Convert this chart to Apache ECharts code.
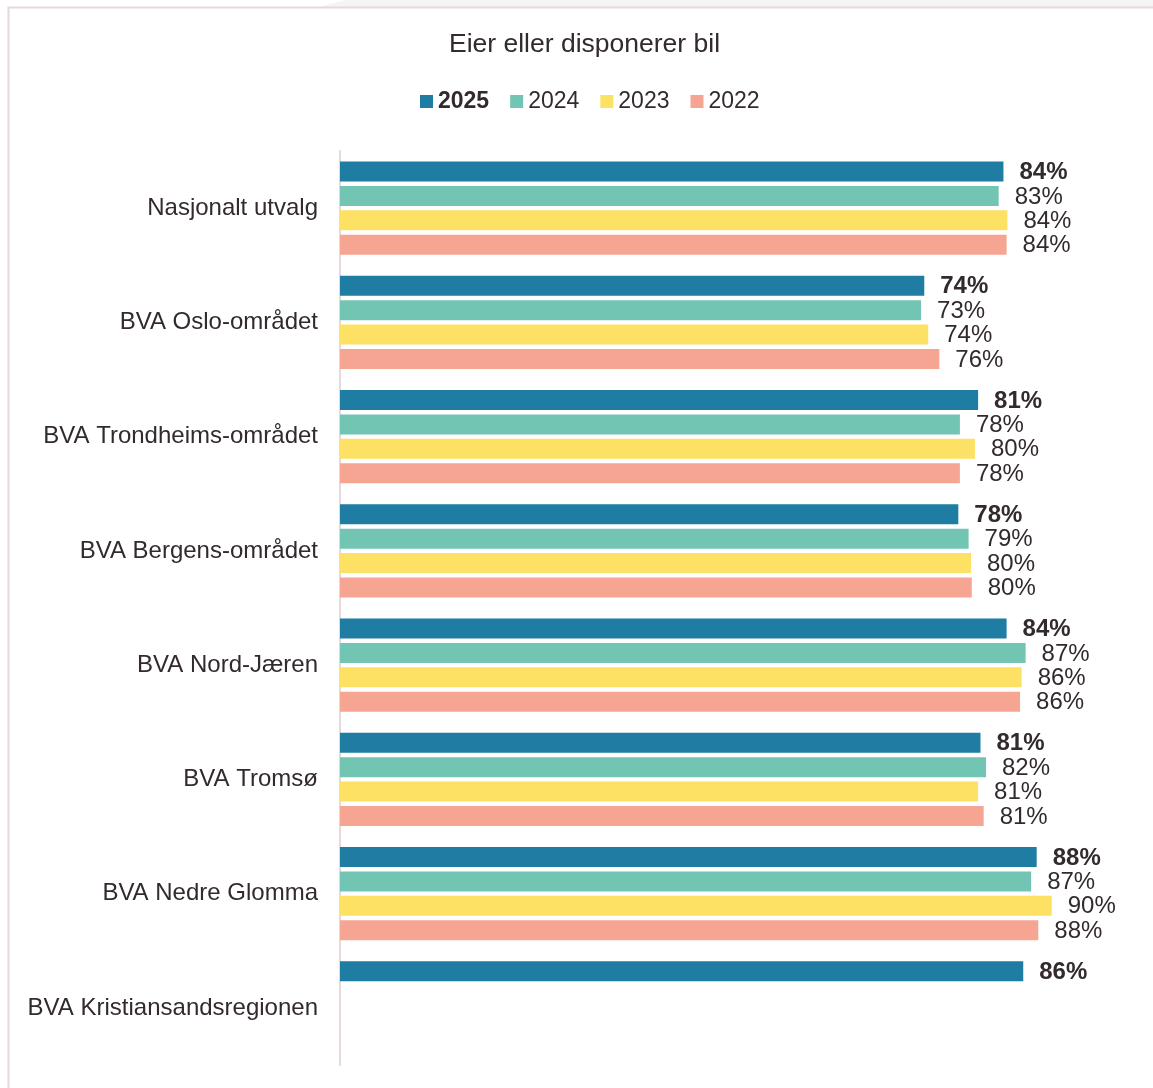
<!DOCTYPE html>
<html>
<head>
<meta charset="utf-8">
<script src="https://cdn.jsdelivr.net/npm/echarts@6/dist/echarts.min.js"></script>
<style>
html,body{margin:0;padding:0;background:#fff;}
#chart{width:1153px;height:1088px;}
</style>
</head>
<body>
<div id="chart"></div>
<script>
const categories = ['Nasjonalt utvalg','BVA Oslo-området','BVA Trondheims-området','BVA Bergens-området','BVA Nord-Jæren','BVA Tromsø','BVA Nedre Glomma','BVA Kristiansandsregionen'];
const seriesNames = ['2025','2024','2023','2022'];
const v2025 = [83.8, 73.8, 80.6, 78.1, 84.2, 80.9, 88.0, 86.3];
const v2024 = [83.2, 73.4, 78.3, 79.4, 86.6, 81.6, 87.3, null];
const v2023 = [84.3, 74.3, 80.2, 79.7, 86.1, 80.6, 89.9, null];
const v2022 = [84.2, 75.7, 78.3, 79.8, 85.9, 81.3, 88.2, null];
const colors = ['#1f7ca3', '#72c4b3', '#fde165', '#f6a592'];
const textColor = '#322a2d';
const FONT = '"Liberation Sans", Arial, sans-serif';

const values = [v2025, v2024, v2023, v2022];
const chart = echarts.init(document.getElementById('chart'), null, {renderer: 'canvas'});

const series = seriesNames.map((name, i) => ({
  name: name,
  type: 'bar',
  data: values[i].map(v => v === null ? '-' : v),
  barWidth: 20,
  barGap: '22%',
  itemStyle: {color: colors[i]},
  label: {
    show: true,
    position: 'right',
    distance: 16,
    offset: [0, 1],
    fontFamily: FONT,
    fontSize: 24,
    fontWeight: i === 0 ? 'bold' : 'normal',
    color: textColor,
    formatter: p => Math.round(p.value) + '%'
  }
}));

chart.setOption({
  animation: false,
  backgroundColor: '#ffffff',
  graphic: [
    {type: 'polygon', shape: {points: [[320, 7], [345, 0], [1153, 0], [1153, 7]]}, style: {fill: '#f5f3f4'}, silent: true},
    {type: 'rect', shape: {x: 8.5, y: 7.5, width: 1200, height: 1200}, style: {fill: 'none', stroke: '#e6d8dc', lineWidth: 2}, silent: true}
  ],
  title: {
    text: 'Eier eller disponerer bil',
    left: 444,
    top: 26,
    textStyle: {fontFamily: FONT, fontSize: 26.5, fontWeight: 'normal', color: textColor}
  },
  legend: {
    data: seriesNames,
    left: 415,
    top: 85,
    itemWidth: 13,
    itemHeight: 13,
    itemGap: 21,
    icon: 'rect',
    formatter: name => name === '2025' ? '{b|' + name + '}' : name,
    textStyle: {
      fontFamily: FONT, fontSize: 23, color: textColor,
      rich: {b: {fontFamily: FONT, fontSize: 23, fontWeight: 'bold', color: textColor}}
    }
  },
  grid: {left: 340, right: 21.3, top: 151, bottom: 23, containLabel: false},
  xAxis: {
    type: 'value',
    min: 0,
    max: 100,
    show: false
  },
  yAxis: {
    type: 'category',
    data: categories,
    inverse: true,
    axisLine: {show: true, lineStyle: {color: '#e6d8dc', width: 2}},
    axisTick: {show: false},
    axisLabel: {fontFamily: FONT, fontSize: 24, color: textColor, margin: 22}
  },
  series: series
});
</script>
</body>
</html>
